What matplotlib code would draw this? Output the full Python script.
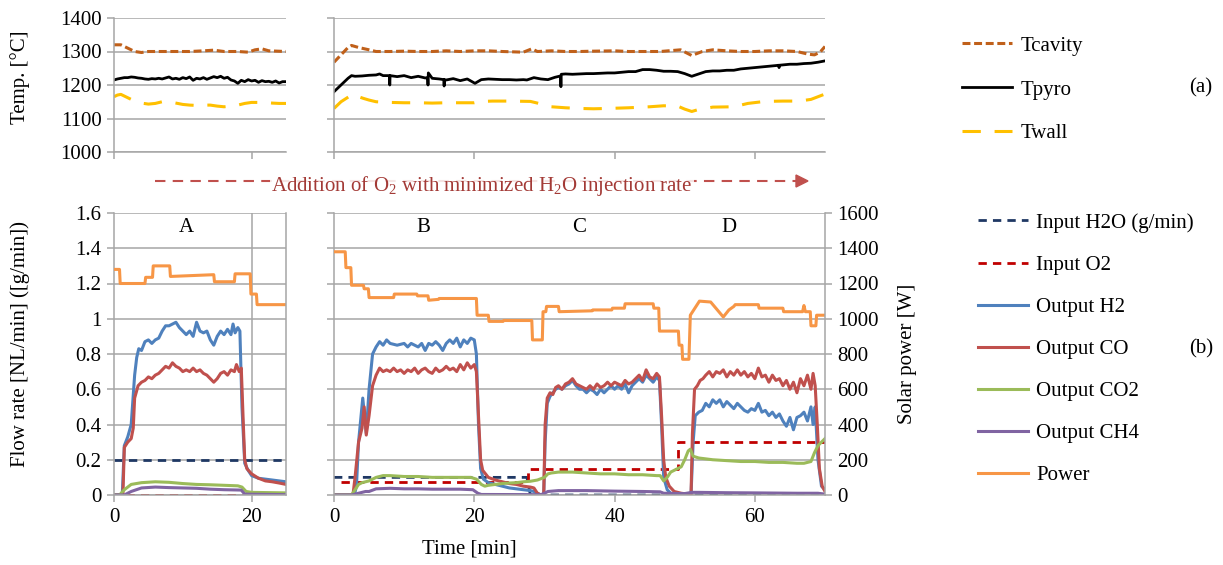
import numpy as np
import matplotlib.pyplot as plt
from matplotlib.lines import Line2D
from matplotlib.ticker import FuncFormatter

plt.rcParams['font.family'] = ['Liberation Serif', 'DejaVu Serif']
plt.rcParams['mathtext.fontset'] = 'custom'
plt.rcParams['mathtext.rm'] = 'Liberation Serif'
plt.rcParams['mathtext.it'] = 'Liberation Serif:italic'
plt.rcParams['font.size'] = 15

# ---------------- data (time [min], value) ----------------
# top left, temperatures
tl_cavity = [(0, 1320), (1, 1320), (2, 1310), (3, 1300), (4, 1297), (5, 1300), (7, 1300), (9, 1300),
             (11, 1300), (13, 1302), (14.5, 1304), (16, 1300), (18, 1300), (19.5, 1298), (20.5, 1305),
             (21.5, 1308), (22.5, 1302), (25, 1300)]
tl_pyro_t = np.arange(0, 25.5, 0.5)
tl_pyro = [1215, 1218, 1220, 1222, 1222, 1224, 1223, 1221, 1220, 1218, 1217, 1219, 1218, 1220, 1218, 1221,
           1224, 1218, 1220, 1217, 1222, 1219, 1224, 1214, 1220, 1218, 1222, 1217, 1221, 1225, 1222, 1226,
           1220, 1223, 1215, 1212, 1205, 1214, 1210, 1216, 1212, 1214, 1208, 1213, 1210, 1211, 1208, 1212,
           1206, 1210, 1210]
tl_wall = [(0, 1165), (0.5, 1170), (1, 1172), (2, 1162), (3, 1152), (4, 1146), (5, 1143), (6, 1145),
           (7, 1150), (8, 1150), (9, 1146), (10, 1142), (11, 1140), (12, 1139), (13, 1140), (14, 1140),
           (15, 1137), (16, 1135), (17, 1137), (18, 1140), (19, 1145), (20, 1148), (21, 1148), (22, 1148),
           (23, 1146), (24, 1145), (25, 1145)]

# top right, temperatures
tr_cavity = [(0, 1268), (1, 1290), (2, 1312), (2.5, 1318), (3.5, 1312), (5, 1305), (6, 1300), (8, 1300),
             (10, 1301), (12, 1300), (14, 1300), (16, 1302), (18, 1300), (20, 1302), (22, 1302), (24, 1300),
             (27, 1298), (28.2, 1308), (29, 1300), (31, 1302), (33, 1300), (35, 1300), (37, 1301), (40, 1302),
             (42, 1300), (44, 1300), (46.5, 1300), (49.4, 1305), (51, 1288), (52.5, 1300), (54, 1305),
             (56, 1302), (58, 1300), (60, 1300), (62, 1302), (64, 1302), (66, 1300), (67.6, 1292),
             (68.5, 1290), (69.3, 1298), (70, 1315)]
tr_pyro = [(0, 1180), (1, 1200), (2, 1220), (2.5, 1228), (3, 1226), (4, 1227), (5, 1229), (6, 1230),
           (6.5, 1233), (7, 1228), (7.9, 1228), (7.95, 1200), (8, 1228), (9, 1225), (10, 1228), (11, 1222),
           (12, 1226), (13, 1221), (13.35, 1222), (13.4, 1200), (13.45, 1236), (14, 1220), (15, 1218),
           (15.65, 1216), (15.7, 1197), (15.75, 1216), (16, 1215), (17, 1219), (18, 1213), (19, 1218),
           (20.1, 1205), (21, 1216), (22, 1218), (23, 1217), (24, 1216), (25, 1216), (26, 1215), (27, 1216),
           (27.5, 1215), (28.5, 1222), (29.5, 1218), (30.5, 1216), (31.5, 1223), (32.3, 1227),
           (32.35, 1195), (32.4, 1232), (33, 1233), (34, 1232), (35, 1233), (36, 1234), (37, 1234),
           (38, 1235), (39, 1236), (40, 1236), (41, 1238), (42, 1240), (43, 1240), (44, 1246), (45, 1246),
           (46, 1244), (47, 1241), (48, 1241), (49, 1240), (50, 1234), (51, 1226), (52, 1233), (53, 1240),
           (54, 1242), (55, 1242), (56, 1244), (57, 1244), (58, 1248), (59, 1250), (60, 1252), (61, 1254),
           (62, 1256), (63, 1258), (63.4, 1259), (63.45, 1252), (63.5, 1259), (64, 1260), (65, 1262),
           (66, 1262), (67, 1264), (68, 1265), (69, 1268), (70, 1272)]
tr_wall = [(0, 1130), (1, 1150), (2.7, 1173), (3.5, 1165), (4.2, 1160), (5, 1155), (6, 1150), (8, 1148),
           (10, 1147), (12, 1147), (14, 1146), (16, 1147), (18, 1147), (20, 1147), (21, 1151), (22.6, 1152),
           (25, 1152), (28, 1151), (29, 1146), (31, 1135), (33, 1132), (35, 1130), (37, 1129), (39, 1130),
           (42, 1132), (45, 1135), (47, 1138), (49, 1137), (50, 1128), (51, 1121), (52, 1127), (54, 1134),
           (57, 1135), (59, 1145), (61.4, 1151), (64, 1152), (66.3, 1152), (68, 1157), (70, 1173)]

# bottom left (run A)
a_h2o = [(0, 0.2), (25, 0.2)]
a_o2 = [(1.8, 0.0), (18.6, 0.0)]
a_h2 = [(0, 0), (1.2, 0), (1.5, 0.28), (2.0, 0.33), (2.5, 0.40), (3.0, 0.68), (3.3, 0.78), (3.6, 0.83),
        (4.0, 0.82), (4.5, 0.87), (5.0, 0.88), (5.5, 0.86), (6.0, 0.88), (6.5, 0.89), (7.0, 0.93),
        (7.5, 0.96), (8.0, 0.96), (8.5, 0.97), (9.0, 0.98), (9.5, 0.95), (10, 0.93), (10.5, 0.91),
        (11, 0.93), (11.5, 0.90), (12, 0.98), (12.5, 0.93), (13, 0.92), (13.5, 0.93), (14, 0.88),
        (14.5, 0.85), (15, 0.90), (15.5, 0.93), (16, 0.91), (16.5, 0.94), (17, 0.91), (17.3, 0.97),
        (17.6, 0.92), (18, 0.95), (18.3, 0.93), (18.6, 0.50), (19.0, 0.18), (19.5, 0.14), (20, 0.11),
        (21, 0.095), (22, 0.09), (23, 0.085), (24, 0.08), (25, 0.075)]
a_co = [(0, 0), (1.3, 0), (1.5, 0.27), (2.0, 0.30), (2.5, 0.32), (2.8, 0.38), (3.0, 0.55), (3.5, 0.62),
        (4.0, 0.64), (4.5, 0.65), (5.0, 0.67), (5.5, 0.66), (6.0, 0.68), (6.5, 0.69), (7.0, 0.71),
        (7.5, 0.73), (8.0, 0.72), (8.5, 0.75), (9.0, 0.73), (9.5, 0.72), (10, 0.70), (10.5, 0.71),
        (11, 0.70), (11.5, 0.72), (12, 0.70), (12.5, 0.71), (13, 0.69), (13.5, 0.68), (14, 0.66),
        (14.5, 0.64), (15, 0.66), (15.5, 0.69), (16, 0.70), (16.5, 0.68), (17, 0.71), (17.5, 0.70),
        (17.8, 0.74), (18.2, 0.70), (18.5, 0.72), (18.8, 0.40), (19.0, 0.20), (19.3, 0.15), (20, 0.12),
        (21, 0.095), (22, 0.08), (23, 0.075), (24, 0.068), (25, 0.06)]
a_co2 = [(0, 0), (0.8, 0), (1.5, 0.03), (2.5, 0.06), (4, 0.07), (6, 0.075), (8, 0.072), (10, 0.065),
         (12, 0.06), (14, 0.058), (16, 0.055), (18, 0.052), (18.6, 0.045), (19.2, 0.02), (20, 0.015),
         (25, 0.012)]
a_ch4 = [(0, 0), (1.5, 0), (2.5, 0.02), (4, 0.04), (6, 0.045), (8, 0.042), (10, 0.04), (12, 0.038),
         (14, 0.033), (16, 0.03), (18.5, 0.028), (19, 0.005), (25, 0.002)]
a_power = [(0, 1280), (0.8, 1280), (0.9, 1200), (4.5, 1200), (4.6, 1235), (5.6, 1235), (5.7, 1300),
           (8.1, 1300), (8.2, 1240), (14.5, 1250), (14.6, 1210), (17.5, 1210), (17.6, 1255), (19.8, 1255),
           (19.9, 1140), (20.7, 1140), (20.8, 1080), (25, 1080)]

# bottom right (runs B, C, D)
b_h2o = [(0, 0.1), (27.5, 0.1), (28, 0.0), (70, 0.0)]
b_o2 = [(1, 0.075), (27.7, 0.075), (27.7, 0.15), (49, 0.15), (49, 0.30), (70, 0.30)]
b_h2 = [(0, 0), (2.9, 0), (3.2, 0.05), (3.5, 0.3), (4.1, 0.55), (4.6, 0.35), (5.0, 0.6), (5.5, 0.8),
        (6, 0.84), (6.5, 0.87), (7, 0.85), (7.5, 0.88), (8, 0.86), (9, 0.85), (10, 0.86), (10.5, 0.84),
        (11, 0.86), (11.5, 0.85), (12, 0.84), (12.5, 0.86), (13, 0.82), (13.5, 0.86), (14, 0.85),
        (14.5, 0.87), (15, 0.85), (15.5, 0.82), (16, 0.86), (16.5, 0.88), (17, 0.86), (17.5, 0.89),
        (18, 0.84), (18.5, 0.88), (19, 0.86), (19.5, 0.89), (20, 0.88), (20.3, 0.80), (20.6, 0.40),
        (20.9, 0.15), (21.3, 0.09), (22, 0.07), (23, 0.06), (24, 0.05), (25, 0.04), (26, 0.035),
        (27, 0.03), (28, 0.025), (28.5, 0.02), (29.5, 0.0), (29.9, 0.0), (30.1, 0.3), (30.4, 0.52),
        (30.8, 0.56), (31.2, 0.58), (31.6, 0.6), (32, 0.61), (32.5, 0.6), (33, 0.62), (33.5, 0.63),
        (34, 0.65), (34.5, 0.62), (35, 0.60), (35.5, 0.6), (36, 0.58), (36.5, 0.6), (37, 0.59),
        (37.5, 0.57), (38, 0.6), (38.5, 0.58), (39, 0.6), (39.5, 0.62), (40, 0.6), (40.5, 0.62),
        (41, 0.6), (41.5, 0.63), (42, 0.58), (42.5, 0.62), (43, 0.64), (43.5, 0.66), (44, 0.64),
        (44.5, 0.68), (45, 0.66), (45.5, 0.64), (46, 0.67), (46.4, 0.65), (46.7, 0.4), (47, 0.1),
        (47.5, 0.03), (48, 0.01), (49, 0.0), (50.9, 0.0), (51.2, 0.3), (51.5, 0.45), (52, 0.47),
        (52.5, 0.48), (53, 0.52), (53.5, 0.5), (54, 0.54), (54.5, 0.52), (55, 0.54), (55.5, 0.5),
        (56, 0.53), (56.5, 0.51), (57, 0.49), (57.5, 0.52), (58, 0.5), (58.5, 0.48), (59, 0.47),
        (59.5, 0.49), (60, 0.48), (60.5, 0.52), (61, 0.47), (61.5, 0.48), (62, 0.45), (62.5, 0.47),
        (63, 0.44), (63.5, 0.46), (64, 0.42), (64.5, 0.39), (65, 0.44), (65.5, 0.37), (66, 0.44),
        (66.5, 0.45), (67, 0.47), (67.5, 0.42), (68, 0.50), (68.3, 0.40), (68.6, 0.50), (69, 0.2),
        (69.5, 0.05), (70, 0.03)]
b_co = [(0, 0), (2.7, 0), (3.0, 0.1), (3.5, 0.3), (4.0, 0.38), (4.3, 0.5), (4.6, 0.34), (5.0, 0.45),
        (5.5, 0.62), (6, 0.68), (6.5, 0.72), (7, 0.70), (7.5, 0.71), (8, 0.70), (8.5, 0.72), (9, 0.70),
        (9.5, 0.71), (10, 0.69), (10.5, 0.71), (11, 0.70), (11.5, 0.72), (12, 0.69), (12.5, 0.71),
        (13, 0.72), (13.5, 0.70), (14, 0.69), (14.5, 0.72), (15, 0.70), (15.5, 0.71), (16, 0.73),
        (16.5, 0.71), (17, 0.72), (17.5, 0.70), (18, 0.74), (18.5, 0.71), (19, 0.75), (19.5, 0.72),
        (20, 0.74), (20.3, 0.70), (20.6, 0.45), (20.9, 0.2), (21.2, 0.14), (21.6, 0.12), (22, 0.10),
        (23, 0.085), (24, 0.075), (25, 0.065), (26, 0.06), (27, 0.05), (28, 0.045), (28.5, 0.04),
        (29.0, 0.01), (29.5, 0.0), (29.9, 0.0), (30.1, 0.4), (30.4, 0.55), (30.8, 0.58), (31.2, 0.57),
        (31.6, 0.61), (32, 0.62), (32.5, 0.6), (33, 0.63), (33.5, 0.64), (34, 0.66), (34.5, 0.63),
        (35, 0.62), (35.5, 0.61), (36, 0.60), (36.5, 0.62), (37, 0.60), (37.5, 0.63), (38, 0.61),
        (38.5, 0.62), (39, 0.64), (39.5, 0.62), (40, 0.64), (40.5, 0.63), (41, 0.62), (41.5, 0.65),
        (42, 0.63), (42.5, 0.64), (43, 0.66), (43.5, 0.68), (44, 0.65), (44.5, 0.71), (45, 0.67),
        (45.5, 0.66), (46, 0.69), (46.4, 0.67), (46.7, 0.45), (47, 0.2), (47.3, 0.1), (47.8, 0.05),
        (48.5, 0.02), (49.5, 0.01), (50.5, 0.005), (50.9, 0.0), (51.1, 0.35), (51.4, 0.6), (51.8, 0.62),
        (52.2, 0.65), (52.6, 0.66), (53, 0.68), (53.5, 0.70), (54, 0.67), (54.5, 0.70), (55, 0.69),
        (55.5, 0.71), (56, 0.67), (56.5, 0.70), (57, 0.68), (57.5, 0.71), (58, 0.68), (58.5, 0.70),
        (59, 0.67), (59.5, 0.69), (60, 0.66), (60.5, 0.72), (61, 0.67), (61.5, 0.68), (62, 0.64),
        (62.5, 0.68), (63, 0.65), (63.5, 0.66), (64, 0.62), (64.5, 0.65), (65, 0.60), (65.5, 0.64),
        (66, 0.58), (66.5, 0.66), (67, 0.62), (67.5, 0.68), (68, 0.60), (68.3, 0.69), (68.6, 0.62),
        (68.9, 0.4), (69.2, 0.15), (69.6, 0.05), (70, 0.02)]
b_co2 = [(0, 0), (2.5, 0), (3, 0.03), (3.5, 0.06), (4, 0.07), (5, 0.08), (5.5, 0.09), (6, 0.10), (7, 0.11),
         (8, 0.11), (10, 0.105), (12, 0.105), (14, 0.10), (16, 0.10), (18, 0.10), (19.5, 0.10),
         (20.3, 0.09), (21, 0.06), (21.5, 0.05), (22, 0.055), (23, 0.06), (24, 0.065), (25, 0.068),
         (26, 0.07), (27, 0.075), (28, 0.078), (29, 0.085), (30, 0.10), (30.5, 0.12), (31, 0.125),
         (32, 0.13), (34, 0.13), (36, 0.125), (38, 0.12), (40, 0.12), (42, 0.115), (44, 0.115),
         (46, 0.11), (46.5, 0.11), (47, 0.08), (47.5, 0.10), (48, 0.13), (48.5, 0.14), (49, 0.15),
         (49.5, 0.16), (50, 0.2), (50.5, 0.25), (50.8, 0.26), (51.2, 0.22), (52, 0.21), (54, 0.20),
         (56, 0.195), (58, 0.19), (60, 0.19), (62, 0.185), (64, 0.185), (66, 0.18), (67, 0.18),
         (68, 0.19), (68.5, 0.24), (69, 0.28), (69.5, 0.30), (70, 0.32)]
b_ch4 = [(0, 0), (2.5, 0), (3.5, 0.01), (4.5, 0.02), (5, 0.02), (6, 0.035), (8, 0.038), (10, 0.035),
         (12, 0.035), (14, 0.033), (16, 0.033), (18, 0.033), (19.8, 0.03), (20.5, 0.01), (21, 0.003),
         (29.5, 0.002), (30, 0.01), (30.5, 0.02), (32, 0.025), (36, 0.025), (40, 0.022), (44, 0.02),
         (46.5, 0.018), (47, 0.01), (50, 0.008), (51, 0.015), (52, 0.015), (56, 0.013), (60, 0.012),
         (66, 0.01), (69, 0.01), (70, 0.005)]
b_power = [(0, 1380), (1.6, 1380), (1.7, 1290), (2.4, 1290), (2.5, 1190), (4.2, 1190), (4.3, 1170),
           (4.9, 1170), (5.0, 1120), (8.5, 1120), (8.6, 1140), (11.8, 1140), (11.9, 1130), (13.4, 1130),
           (13.5, 1105), (14.9, 1110), (15.0, 1115), (20.3, 1115), (20.4, 1020), (22.0, 1020), (22.1, 985),
           (24.1, 985), (24.2, 990), (28.2, 990), (28.3, 880), (29.7, 880), (29.8, 1040), (30.2, 1040),
           (30.3, 1070), (32.0, 1070), (32.1, 1040), (36.8, 1045), (36.9, 1050), (39.6, 1050),
           (39.7, 1060), (41.4, 1060), (41.5, 1085), (45.5, 1085), (45.6, 1060), (46.3, 1060),
           (46.4, 930), (49.1, 930), (49.2, 850), (49.6, 850), (49.7, 770), (50.6, 770), (50.8, 1020),
           (52.1, 1100), (53.7, 1095), (55.5, 1010), (56.3, 1050), (57.0, 1070), (57.2, 1080),
           (60.5, 1080), (60.6, 1060), (64.0, 1060), (64.1, 1040), (66.8, 1040), (67.0, 1075),
           (67.2, 1040), (67.9, 1040), (68.0, 960), (68.7, 960), (68.8, 1020), (70, 1020)]

# labels
temp_names = ['Tcavity', 'Tpyro', 'Twall']
flow_names = ['Input H2O (g/min)', 'Input O2', 'Output H2', 'Output CO', 'Output CO2', 'Output CH4', 'Power']
run_labels = ['A', 'B', 'C', 'D']
run_label_t = [10.5, 12.7, 34.9, 56.3]
temp_ticks = [1000, 1100, 1200, 1300, 1400]
flow_ticks = [0, 0.2, 0.4, 0.6, 0.8, 1.0, 1.2, 1.4, 1.6]
power_ticks = [0, 200, 400, 600, 800, 1000, 1200, 1400, 1600]

# ---------------- styles ----------------
GRID = '#a6a6a6'
c_cav, c_pyro, c_wall = '#c0601a', 'black', '#ffc000'
c_h2o, c_o2, c_h2, c_co, c_co2, c_ch4, c_pow = ('#1f3864', '#c00000', '#4f81bd', '#c0504d',
                                               '#9bbb59', '#8064a2', '#f79646')
st_cav = dict(color=c_cav, lw=2.2, ls=(0, (2.6, 1.2)))
st_pyro = dict(color=c_pyro, lw=2.0)
st_wall = dict(color=c_wall, lw=2.2, ls=(0, (6, 4.5)))
st_h2o = dict(color=c_h2o, lw=2.0, ls=(0, (3, 2.2)))
st_o2 = dict(color=c_o2, lw=2.0, ls=(0, (3, 2.2)))
st_h2 = dict(color=c_h2, lw=2.2)
st_co = dict(color=c_co, lw=2.2)
st_co2 = dict(color=c_co2, lw=2.2)
st_ch4 = dict(color=c_ch4, lw=2.2)
st_pow = dict(color=c_pow, lw=2.2)


def xy(pairs):
    a = np.array(pairs, dtype=float)
    return a[:, 0], a[:, 1]


def style_axes(ax):
    for s in ['top', 'right']:
        ax.spines[s].set_visible(False)
    ax.spines['left'].set_color(GRID)
    ax.spines['bottom'].set_color(GRID)
    ax.spines['left'].set_linewidth(1.1)
    ax.spines['bottom'].set_linewidth(1.1)
    ax.yaxis.grid(True, color=GRID, lw=1.1)
    ax.set_axisbelow(True)
    ax.tick_params(direction='out', length=5, width=1.1, color=GRID, labelsize=15, pad=4)


fig = plt.figure(figsize=(12.23, 5.65), dpi=100)
W, H = 1223, 565


def box(x0, y0, x1, y1):
    return [x0 / W, 1 - y1 / H, (x1 - x0) / W, (y1 - y0) / H]


ax_tl = fig.add_axes(box(114, 18, 286, 152))
ax_tr = fig.add_axes(box(334, 18, 825, 152))
ax_bl = fig.add_axes(box(114, 213, 286, 495))
ax_br = fig.add_axes(box(334, 213, 825, 495))

# ---- top panels
for ax, cav, pyro, wall, xmax in [(ax_tl, tl_cavity, None, tl_wall, 25), (ax_tr, tr_cavity, tr_pyro, tr_wall, 70)]:
    style_axes(ax)
    ax.plot(*xy(wall), **st_wall)
    if pyro is None:
        ax.plot(tl_pyro_t, tl_pyro, **st_pyro)
    else:
        ax.plot(*xy(pyro), **st_pyro)
    ax.plot(*xy(cav), **st_cav)
    ax.set_xlim(0, xmax)
    ax.set_ylim(1000, 1400)
    ax.set_yticks(temp_ticks)
    ax.set_xticks([0, 20] if xmax == 25 else [0, 20, 40, 60])
    ax.set_xticklabels([])
ax_tr.set_yticklabels([])
ax_tl.set_ylabel('Temp. [°C]', fontsize=15)
ax_tl.yaxis.set_label_coords(-0.49, 0.56)

# ---- bottom panels
fmt = FuncFormatter(lambda v, p: '%g' % round(v, 2))
for ax, h2o, o2, h2, co, co2, ch4, power, xmax in [
        (ax_bl, a_h2o, a_o2, a_h2, a_co, a_co2, a_ch4, a_power, 25),
        (ax_br, b_h2o, b_o2, b_h2, b_co, b_co2, b_ch4, b_power, 70)]:
    style_axes(ax)
    ax.plot(*xy(h2o), **st_h2o)
    ax.plot(*xy(o2), **st_o2)
    ax.plot(*xy(h2), **st_h2)
    ax.plot(*xy(co), **st_co)
    ax.plot(*xy(co2), **st_co2)
    ax.plot(*xy(ch4), **st_ch4)
    ax.set_xlim(0, xmax)
    ax.set_ylim(0, 1.6)
    ax.set_yticks(flow_ticks)
    ax.yaxis.set_major_formatter(fmt)
    ax.set_xticks([0, 20] if xmax == 25 else [0, 20, 40, 60])
    ax2 = ax.twinx()
    ax2.plot(*xy(power), **st_pow)
    ax2.set_ylim(0, 1600)
    ax2.set_yticks(power_ticks)
    for s in ['top', 'left', 'bottom']:
        ax2.spines[s].set_visible(False)
    ax2.spines['right'].set_color(GRID)
    ax2.spines['right'].set_linewidth(1.1)
    ax2.tick_params(direction='out', length=5, width=1.1, color=GRID, labelsize=15, pad=4)
    if xmax == 25:
        ax2.tick_params(right=False, labelright=False)
        ax.axvline(20, color=GRID, lw=1.1, zorder=0.5)
    else:
        ax2.set_ylabel('Solar power [W]', fontsize=15)
        ax2.yaxis.set_label_coords(1.148, 0.5)
ax_br.set_yticklabels([])
ax_bl.set_ylabel('Flow rate [NL/min] ([g/min])', fontsize=15)
ax_bl.yaxis.set_label_coords(-0.49, 0.535)

ax_bl.text(run_label_t[0], 1.515, run_labels[0], ha='center', va='center', fontsize=15)
for lab, t in zip(run_labels[1:], run_label_t[1:]):
    ax_br.text(t, 1.515, lab, ha='center', va='center', fontsize=15)

fig.text(469 / W, 1 - 549 / H, 'Time [min]', ha='center', va='center', fontsize=15)

# ---- annotation arrow
ay = 1 - 181 / H
fig.add_artist(Line2D([155 / W, 798 / W], [ay, ay], color='#c0504d', lw=1.5, ls=(0, (5, 3.5))))
fig.add_artist(plt.Polygon([[796 / W, ay + 6 / H], [808 / W, ay], [796 / W, ay - 6 / H]],
                           closed=True, color='#c0504d', transform=fig.transFigure))
fig.text(482 / W, 1 - 186 / H, 'Addition of O$_2$ with minimized H$_2$O injection rate',
         ha='center', va='center', fontsize=15, color='#a33a36',
         bbox=dict(facecolor='white', edgecolor='none', alpha=0.85, pad=1))

# ---- legends
h_top = [Line2D([], [], **st_cav), Line2D([], [], **st_pyro), Line2D([], [], **st_wall)]
fig.legend(h_top, temp_names, loc='upper left', bbox_to_anchor=(962 / W, 1 - 36 / H), frameon=False,
           fontsize=15, handlelength=2.4, handletextpad=0.4, labelspacing=1.17, borderpad=0,
           borderaxespad=0)
h_bot = [Line2D([], [], **s) for s in (st_h2o, st_o2, st_h2, st_co, st_co2, st_ch4, st_pow)]
fig.legend(h_bot, flow_names, loc='upper left', bbox_to_anchor=(978 / W, 1 - 213 / H), frameon=False,
           fontsize=15, handlelength=2.4, handletextpad=0.4, labelspacing=1.08, borderpad=0,
           borderaxespad=0)
fig.text(1201 / W, 1 - 88 / H, '(a)', ha='center', va='center', fontsize=15)
fig.text(1201 / W, 1 - 349 / H, '(b)', ha='center', va='center', fontsize=15)

fig.savefig('out.png', dpi=100)
